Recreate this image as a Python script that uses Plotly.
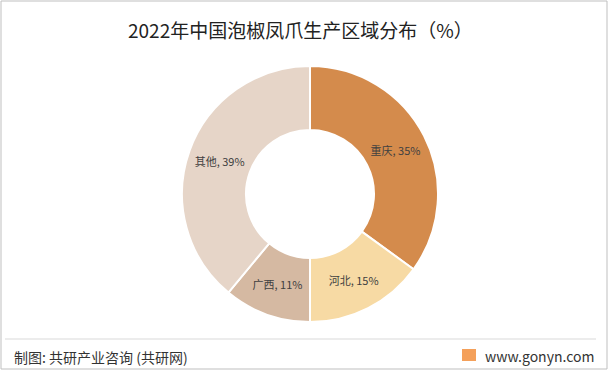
import plotly.graph_objects as go

labels = ["重庆", "河北", "广西", "其他"]
values = [35, 15, 11, 39]
colors = ["#D48B4C", "#F7DAA4", "#D5B9A2", "#E6D5C8"]

W, H = 611, 371
cx, cy, R = 310, 194, 128

fig = go.Figure(go.Pie(
    labels=labels, values=values, hole=0.5, sort=False, direction="clockwise",
    rotation=0,
    marker=dict(colors=colors, line=dict(color="white", width=2)),
    texttemplate="%{label}, %{value}%", textinfo="text", textposition="inside",
    insidetextorientation="horizontal",
    textfont=dict(family="Noto Sans CJK SC", size=11, color="#404040"),
    domain=dict(x=[(cx - R) / W, (cx + R) / W], y=[1 - (cy + R) / H, 1 - (cy - R) / H]),
    showlegend=False, hoverinfo="label+value",
))

font = "Noto Sans CJK SC"
fig.update_layout(
    width=W, height=H, margin=dict(l=0, r=0, t=0, b=0),
    paper_bgcolor="white", plot_bgcolor="white",
    font=dict(family=font),
    shapes=[
        dict(type="rect", xref="paper", yref="paper", x0=1 / W, x1=1 - 4 / W, y0=2 / H, y1=1 - 1 / H,
             line=dict(color="#BFBFBF", width=1)),
        dict(type="line", xref="paper", yref="paper", x0=5 / W, x1=596 / W,
             y0=1 - 339 / H, y1=1 - 339 / H, line=dict(color="#D9D9D9", width=1)),
        dict(type="rect", xref="paper", yref="paper", x0=462 / W, x1=476 / W,
             y0=1 - 361 / H, y1=1 - 349 / H, line=dict(width=0), fillcolor="#F4A05A"),
    ],
    annotations=[
        dict(text="2022年中国泡椒凤爪生产区域分布（%）", x=300 / W, y=1 - 30 / H, xref="paper", yref="paper",
             showarrow=False, font=dict(family=font, size=19, color="#222222"), xanchor="center", yanchor="middle"),
        dict(text="制图: 共研产业咨询 (共研网)", x=12 / W, y=1 - 357 / H, xref="paper", yref="paper",
             showarrow=False, font=dict(family=font, size=14, color="#333333"), xanchor="left", yanchor="middle"),
        dict(text="www.gonyn.com", x=596 / W, y=1 - 356 / H, xref="paper", yref="paper",
             showarrow=False, font=dict(family=font, size=14, color="#333333"), xanchor="right", yanchor="middle"),
    ],
)

fig.write_html("out.html", config={"displayModeBar": False},
               post_script="document.body.style.margin='0';")
